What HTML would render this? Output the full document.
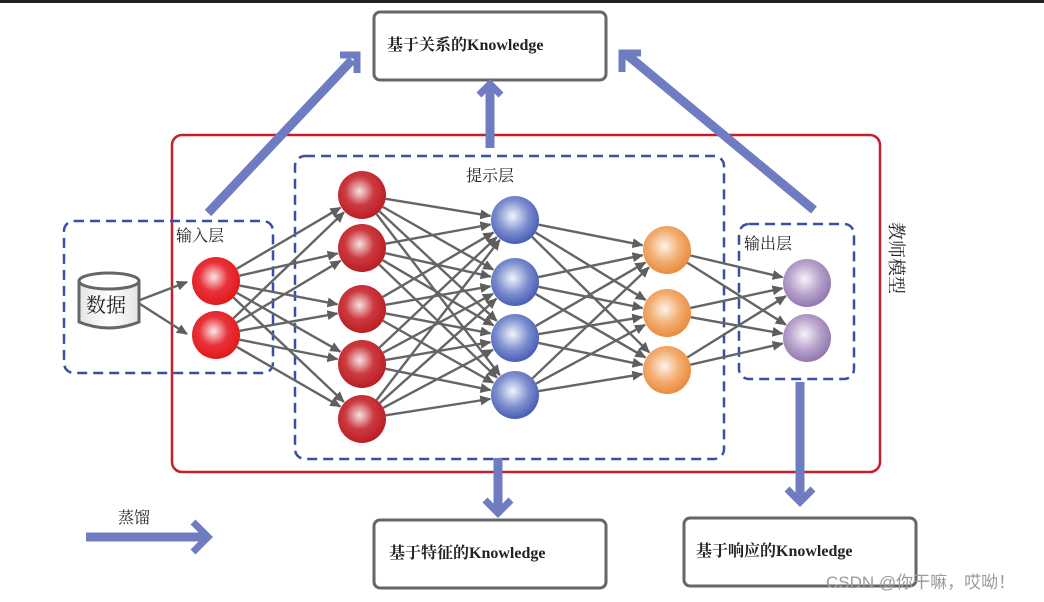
<!DOCTYPE html>
<html><head><meta charset="utf-8">
<style>
html,body{margin:0;padding:0;background:#fff;}
svg{display:block}
text{font-family:"Liberation Serif","Noto Serif CJK SC",serif;}
.wm{font-family:"Liberation Sans","Noto Sans CJK SC",sans-serif;}
</style></head>
<body>
<svg id="s" width="1044" height="602" viewBox="0 0 1044 602" xmlns="http://www.w3.org/2000/svg">
<defs>
<radialGradient id="gr" cx="0.45" cy="0.42" r="0.6"><stop offset="0" stop-color="#fbe6e6"/><stop offset="0.5" stop-color="#e8323a"/><stop offset="1" stop-color="#e01818"/></radialGradient>
<radialGradient id="gd" cx="0.45" cy="0.42" r="0.6"><stop offset="0" stop-color="#f6e2e2"/><stop offset="0.5" stop-color="#cc3a40"/><stop offset="1" stop-color="#b81c22"/></radialGradient>
<radialGradient id="gb" cx="0.45" cy="0.42" r="0.6"><stop offset="0" stop-color="#f2f4fb"/><stop offset="0.55" stop-color="#7d8fcf"/><stop offset="1" stop-color="#4659b3"/></radialGradient>
<radialGradient id="go" cx="0.45" cy="0.42" r="0.6"><stop offset="0" stop-color="#fdf2e8"/><stop offset="0.55" stop-color="#f2ac6e"/><stop offset="1" stop-color="#e8893c"/></radialGradient>
<radialGradient id="gp" cx="0.45" cy="0.42" r="0.6"><stop offset="0" stop-color="#f6f2f8"/><stop offset="0.55" stop-color="#b7a2cb"/><stop offset="1" stop-color="#8f74ad"/></radialGradient>
<marker id="ah" markerWidth="11" markerHeight="10" refX="10" refY="5" orient="auto" markerUnits="userSpaceOnUse"><path d="M0,0 L11,5 L0,10 Z" fill="#5e5e5e"/></marker>
<linearGradient id="gc" x1="0" y1="0" x2="1" y2="0"><stop offset="0" stop-color="#e4e4e4"/><stop offset="0.5" stop-color="#fff"/><stop offset="1" stop-color="#e4e4e4"/></linearGradient>
</defs>
<rect x="0" y="0" width="1044" height="3" fill="#222"/>

<rect x="374" y="12" width="232" height="68" rx="6" fill="#fff" stroke="#666" stroke-width="3"/>
<text x="387" y="50" font-size="16" font-weight="bold" fill="#222">基于关系的Knowledge</text>
<rect x="374" y="520" width="232" height="68" rx="6" fill="#fff" stroke="#666" stroke-width="3"/>
<text x="389" y="558" font-size="16" font-weight="bold" fill="#222">基于特征的Knowledge</text>
<rect x="684" y="518" width="232" height="68" rx="6" fill="#fff" stroke="#666" stroke-width="3"/>
<text x="696" y="556" font-size="16" font-weight="bold" fill="#222">基于响应的Knowledge</text>

<rect x="172" y="135" width="708" height="337" rx="10" fill="none" stroke="#c4202a" stroke-width="2.5"/>
<rect x="64" y="221" width="209" height="152" rx="10" fill="none" stroke="#3a4fa8" stroke-width="2.5" stroke-dasharray="10,6"/>
<rect x="295" y="156" width="429" height="303" rx="10" fill="none" stroke="#3a4fa8" stroke-width="2.5" stroke-dasharray="10,6"/>
<rect x="739" y="224" width="115" height="155" rx="10" fill="none" stroke="#3a4fa8" stroke-width="2.5" stroke-dasharray="10,6"/>

<g stroke="#6f7cc2" stroke-width="9" fill="none" stroke-linecap="butt">
<line x1="208" y1="213" x2="352" y2="60"/>
<polyline points="340,55 357,55 357,73" stroke-width="7"/>
<line x1="490" y1="148" x2="490" y2="86"/>
<polyline points="479,95 490,84 501,95" stroke-width="7"/>
<line x1="814" y1="210" x2="626" y2="54"/>
<polyline points="622,72 622,53 641,53" stroke-width="7"/>
<line x1="498" y1="458" x2="498" y2="512"/>
<polyline points="485,500 498,513 511,500" stroke-width="7"/>
<line x1="800" y1="382" x2="800" y2="502"/>
<polyline points="787,489 800,502 813,489" stroke-width="7"/>
<line x1="86" y1="537" x2="206" y2="537"/>
<polyline points="193,522 208,537 193,552" stroke-width="7"/>
</g>

<g id="edges" stroke="#656565" stroke-width="2.4" marker-end="url(#ah)"></g>
<g id="nodes"></g>

<path d="M79,281 L79,322 Q109,334 139,322 L139,281" fill="url(#gc)" stroke="#666" stroke-width="3"/>
<ellipse cx="109" cy="281" rx="30" ry="8" fill="#fff" stroke="#666" stroke-width="3"/>
<text x="86" y="312" font-size="20" fill="#222">数据</text>
<line x1="140" y1="300" x2="187" y2="282" stroke="#656565" stroke-width="2.4" marker-end="url(#ah)"/>
<line x1="140" y1="304" x2="187" y2="334" stroke="#656565" stroke-width="2.4" marker-end="url(#ah)"/>

<text x="176" y="241" font-size="16" fill="#222">输入层</text>
<text x="466" y="181" font-size="16" fill="#222">提示层</text>
<text x="744" y="249" font-size="16" fill="#222">输出层</text>
<text x="118" y="523" font-size="16" fill="#222">蒸馏</text>
<text font-size="18" fill="#222" transform="translate(890,222) rotate(90)">教师模型</text>
<text x="826" y="588" font-size="17" fill="#9a9a9a" class="wm">CSDN @你干嘛，哎呦！</text>
</svg>
<script>
var L=[[216,[281,335],'gr'],[362,[195,248,309,364,419],'gd'],[515,[220,282,338,395],'gb'],[667,[250,313,370],'go'],[807,[283,338],'gp']];
var ns="http://www.w3.org/2000/svg",E=document.getElementById('edges'),N=document.getElementById('nodes'),r=24;
for(var i=0;i<L.length-1;i++){var a=L[i],b=L[i+1];a[1].forEach(function(y1){b[1].forEach(function(y2){
var dx=b[0]-a[0],dy=y2-y1,d=Math.sqrt(dx*dx+dy*dy);var l=document.createElementNS(ns,'line');
l.setAttribute('x1',a[0]+dx*r/d);l.setAttribute('y1',y1+dy*r/d);l.setAttribute('x2',b[0]-dx*(r+1)/d);l.setAttribute('y2',y2-dy*(r+1)/d);E.appendChild(l);});});}
L.forEach(function(a){a[1].forEach(function(y){var c=document.createElementNS(ns,'circle');c.setAttribute('cx',a[0]);c.setAttribute('cy',y);c.setAttribute('r',r);c.setAttribute('fill','url(#'+a[2]+')');N.appendChild(c);});});
</script>
</body></html>
